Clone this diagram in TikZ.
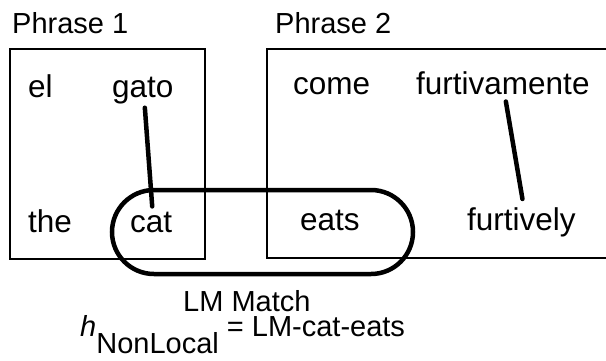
\documentclass[tikz,border=0pt]{standalone}
\usepackage{fontspec}
\setmainfont{Liberation Sans}
\usetikzlibrary{calc}
\begin{document}
\begin{tikzpicture}[x=1pt,y=-1pt,
  word/.style={anchor=base west,inner sep=0pt,font=\fontsize{31.5}{36}\selectfont},
  caption/.style={anchor=base west,inner sep=0pt,font=\fontsize{29}{34}\selectfont},
  phrasebox/.style={draw,line width=1.8pt,inner sep=0pt},
  align/.style={line width=4.5pt,line cap=round},
  lmbox/.style={draw,line width=4.5pt,rounded corners=42pt,inner sep=0pt,minimum width=301pt,minimum height=84pt}]
\clip (0,0) rectangle (606,360);
\fill[white] (0,0) rectangle (606,360);
% phrase boxes
\node[phrasebox,minimum width=195pt,minimum height=210pt] (box1) at (107.5,154) {};
\node[phrasebox,minimum width=360pt,minimum height=209pt] (box2) at (447,153.5) {};
\node[caption] (p1) at (12,33) {Phrase 1};
\node[caption] (p2) at (275,33) {Phrase 2};
% words
\node[word] (el) at (28,97) {el};
\node[word] (gato) at (112,97) {gato};
\node[word] (the) at (28,232) {the};
\node[word] (cat) at (130,232) {cat};
\node[word] (come) at (293,94) {come};
\node[word] (furtivamente) at (416,94) {furtivamente};
\node[word] (eats) at (300,230) {eats};
\node[word] (furtively) at (467,230) {furtively};
% alignment links
\draw[align] ([shift={(2,4)}]gato.south) -- ([shift={(1,-5)}]cat.north);
\draw[align] ([shift={(3,7)}]furtivamente.south) -- ([shift={(1,-8)}]furtively.north);
% LM match
\node[lmbox] (lm) at (262.5,232) {};
\node[caption] (lmlabel) at (183,311) {LM Match};
\node[caption] (hnl) at (80,336) {\textit{h}\raisebox{-17pt}{NonLocal} = LM-cat-eats};
\end{tikzpicture}
\end{document}
